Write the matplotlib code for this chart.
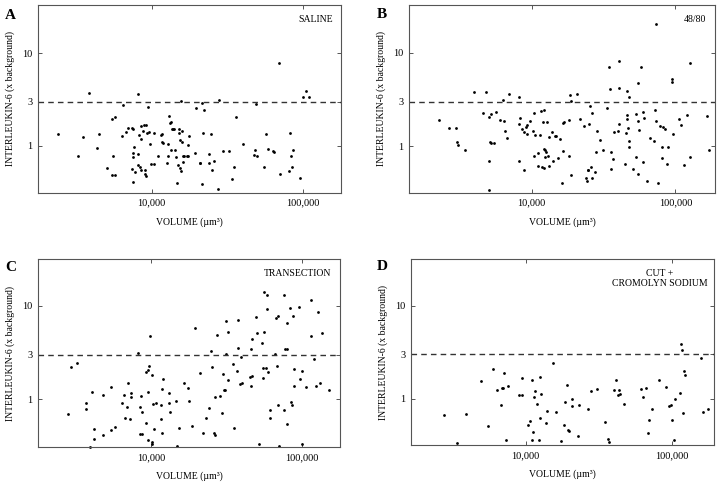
import matplotlib
matplotlib.use("Agg")
import matplotlib.pyplot as plt
from matplotlib.ticker import FixedLocator, NullLocator

plt.rcParams["font.family"] = ["Liberation Serif", "DejaVu Serif"]

# panel A - saline
saline_vol = [2400, 3260, 3500, 3860, 4340, 4470, 5080, 5480, 5570, 5480,
              5740, 5760, 6420, 6360, 6820, 6930, 7370, 7480, 7370, 7520,
              7560, 7560, 7630, 7710, 8070, 8120, 8120, 8280, 8370, 8450,
              8500, 8500, 8710, 8850, 8990, 9080, 9120, 9170, 9270, 9400,
              9650, 9800, 9900, 10300, 10300, 10960, 11590, 11720, 11720, 11830,
              12590, 12770, 12900, 13030, 13240, 13430, 13510, 13710, 13930, 14130,
              14290, 14510, 14800, 14960, 15100, 15180, 15420, 15490, 15660, 15580,
              15820, 15980, 16060, 16230, 16310, 17070, 17330, 17500, 17600, 19400,
              19590, 20940, 21000, 21580, 21650, 21920, 22240, 23880, 24150, 24890,
              25130, 26060, 27420, 27990, 29740, 32430, 34120, 35380, 36480, 39990,
              47300, 48270, 49530, 48980, 55340, 57110, 58610, 63210, 64520, 69980,
              70340, 81600, 82800, 84100, 84900, 86300, 95500, 100500, 105200, 109600]
saline_il6 = [1.34, 0.77, 1.26, 3.75, 0.95, 1.35, 0.58, 1.93, 0.77, 0.49,
              2.03, 0.49, 2.78, 1.28, 1.41, 1.57, 1.57, 1.53, 0.56, 0.75,
              0.41, 0.83, 0.96, 0.52, 0.81, 3.63, 0.62, 1.32, 0.59, 1.65,
              1.18, 0.55, 1.45, 1.66, 0.55, 0.50, 0.47, 1.66, 1.36, 2.62,
              1.41, 1.06, 0.64, 1.36, 0.63, 0.78, 1.32, 1.11, 1.35, 1.08,
              0.66, 0.77, 1.04, 2.08, 1.76, 0.90, 1.80, 1.53, 1.53, 1.53,
              0.90, 0.75, 0.40, 0.62, 1.36, 1.53, 0.57, 1.16, 3.07, 0.53,
              1.44, 1.11, 0.77, 0.67, 0.77, 0.77, 1.03, 0.77, 1.29, 0.84,
              2.58, 0.65, 0.65, 0.39, 2.92, 1.38, 2.43, 0.65, 0.81, 1.33,
              0.55, 0.69, 0.34, 3.12, 0.88, 0.89, 0.44, 0.59, 2.06, 1.06,
              0.80, 0.91, 0.77, 2.80, 0.59, 1.34, 0.92, 0.89, 0.85, 7.92,
              0.50, 0.53, 1.36, 0.77, 0.59, 0.91, 0.45, 3.34, 3.94, 3.34]

# panel B - 48/80
c4880_vol = [2280, 2660, 2970, 3020, 3090, 3440, 4010, 4610, 4790, 5020,
             5050, 5100, 5160, 5240, 5210, 5470, 5650, 6020, 6290, 6420,
             6560, 6770, 6950, 8120, 8120, 8120, 8300, 8520, 8800, 8890,
             9180, 9230, 9330, 9740, 10160, 10330, 10330, 10490, 11010, 11070,
             11430, 11670, 11800, 11930, 12120, 12250, 12250, 12450, 12450, 12510,
             12850, 12990, 13200, 13200, 13930, 14000, 14450, 14860, 15170, 15750,
             16180, 16440, 16530, 16880, 18190, 18290, 18490, 18780, 18880, 20790,
             21580, 23130, 24020, 24150, 24540, 24670, 25070, 25470, 25880, 26440,
             26440, 27450, 28040, 28490, 29900, 31540, 33270, 34730, 34910, 35480,
             35860, 36620, 37410, 40550, 40550, 39690, 40330, 44640, 45370, 45820,
             45820, 46060, 46580, 47320, 47320, 47810, 50470, 53240, 53480, 54700,
             54960, 55220, 56160, 57390, 59250, 59900, 60520, 63130, 66990, 70660,
             72560, 73340, 73340, 76190, 78200, 80350, 82080, 81200, 84760, 87040,
             88900, 94270, 94270, 96330, 106600, 109400, 115500, 121200, 126500, 126900,
             165200, 172500]
c4880_il6 = [1.89, 1.55, 1.55, 1.10, 1.03, 0.91, 3.84, 2.28, 3.84, 2.08,
             0.70, 0.34, 1.12, 2.21, 1.09, 1.09, 2.30, 1.90, 3.10, 1.86,
             1.46, 1.23, 3.62, 3.39, 1.74, 0.69, 2.02, 1.51, 0.56, 1.42,
             1.59, 1.70, 1.36, 1.86, 1.47, 0.79, 2.26, 1.33, 0.85, 0.62,
             1.32, 2.36, 0.60, 1.80, 2.46, 0.94, 0.58, 0.92, 0.77, 0.86,
             1.81, 0.79, 1.24, 0.62, 1.42, 0.69, 1.27, 1.30, 0.74, 1.19,
             0.40, 1.77, 0.88, 1.83, 1.92, 0.79, 3.53, 3.05, 0.49, 3.62,
             1.98, 1.63, 0.46, 0.42, 0.55, 0.55, 1.72, 2.69, 0.60, 2.26,
             0.46, 0.53, 0.86, 1.45, 1.16, 0.92, 2.58, 7.07, 4.10, 0.57,
             0.86, 0.72, 1.43, 8.13, 4.17, 1.47, 1.75, 0.64, 1.37, 1.98,
             3.90, 2.17, 1.55, 1.15, 0.98, 3.39, 0.57, 2.21, 0.76, 0.50,
             1.86, 4.72, 1.49, 7.07, 2.32, 0.67, 2.02, 0.42, 1.21, 1.14,
             2.46, 20.3, 1.87, 0.40, 1.64, 0.75, 1.61, 0.98, 1.51, 0.65,
             0.99, 4.88, 5.30, 1.35, 1.94, 1.70, 0.63, 2.17, 7.80, 0.77,
             2.10, 0.92]

# panel C - transection
trans_vol = [2810, 2940, 3210, 3680, 3700, 3900, 4040, 4160, 4170, 4750,
             4770, 5370, 5420, 5740, 6420, 6620, 6720, 6930, 7040, 7260,
             7330, 7330, 8200, 8410, 8410, 8500, 8670, 8710, 9170, 9270,
             9450, 9450, 9550, 9600, 9850, 10050, 10050, 10150, 10260, 10420,
             10740, 11530, 11590, 11720, 11830, 11890, 13100, 13170, 13300, 14580,
             15340, 14730, 16560, 17420, 17780, 18620, 19400, 21040, 21920, 23060,
             24020, 25010, 25240, 25930, 26300, 26420, 27150, 28420, 29150, 29740,
             30050, 30830, 30990, 31150, 32270, 32270, 34500, 35190, 36840, 37410,
             37730, 38760, 39300, 39600, 45150, 45370, 45370, 46300, 46060, 49530,
             49780, 51840, 54290, 55340, 55610, 55080, 55080, 57110, 57950, 58530,
             59120, 61330, 61000, 66180, 67200, 67880, 68920, 69280, 69630, 75560,
             75180, 76690, 78720, 79530, 79530, 83250, 84100, 85400, 86300, 88050,
             88050, 95500, 96500, 99500, 100000, 106300, 113600, 114100, 119500, 123300,
             127700, 130900, 134300, 149600]
trans_il6 = [0.69, 2.24, 2.47, 0.91, 0.78, 0.31, 1.20, 0.48, 0.38, 1.12,
             0.41, 0.47, 1.37, 0.50, 0.91, 1.11, 0.63, 0.83, 1.50, 0.61,
             1.06, 1.16, 3.16, 0.83, 0.43, 1.09, 0.43, 0.74, 1.96, 0.56,
             2.06, 1.20, 0.37, 2.29, 4.81, 1.84, 0.35, 0.33, 0.88, 0.48,
             0.92, 0.87, 0.61, 1.30, 0.44, 1.67, 0.91, 1.17, 0.74, 0.97,
             0.49, 0.32, 1.48, 1.31, 0.96, 0.52, 5.81, 1.90, 0.44, 0.63,
             0.81, 3.27, 2.22, 0.44, 0.41, 1.06, 4.89, 1.08, 0.72, 1.87,
             1.26, 1.27, 3.03, 6.85, 1.61, 5.27, 2.37, 0.49, 2.00, 7.08,
             3.58, 1.46, 2.82, 1.48, 1.75, 3.49, 1.38, 1.78, 4.47, 7.69,
             5.14, 0.33, 3.98, 14.1, 5.31, 2.15, 1.68, 2.15, 13.0, 9.29,
             1.96, 0.76, 0.63, 3.03, 7.50, 2.28, 0.87, 7.75, 0.32, 13.1,
             0.76, 3.43, 0.54, 6.52, 3.43, 9.44, 0.93, 0.86, 7.81, 1.39,
             2.13, 9.84, 1.65, 2.00, 0.33, 1.36, 11.5, 4.81, 2.73, 1.40,
             8.62, 1.51, 5.14, 1.25]

# panel D - cut + cromolyn sodium
crom_vol = [2760, 3400, 3920, 4970, 5490, 5970, 6330, 6780, 6890, 7030,
            7140, 7290, 7570, 9000, 9400, 9490, 10430, 10650, 11050, 11050,
            11290, 11460, 11590, 11960, 12340, 12470, 12600, 12810, 13710, 13930,
            15390, 16050, 17460, 18320, 18600, 19090, 19600, 19910, 20650, 20870,
            22710, 23050, 26600, 28000, 30830, 34910, 36810, 37410, 40090, 41340,
            43150, 43620, 44100, 47170, 61340, 63950, 66370, 69580, 68880, 73750,
            81480, 91430, 95900, 98900, 100500, 103700, 104800, 113500, 115900, 118400,
            119000, 121500, 122800, 158800, 163000, 176500]
crom_il6 = [0.66, 0.33, 0.69, 1.53, 0.50, 2.09, 1.23, 0.85, 1.31, 1.30,
            1.89, 0.36, 1.37, 1.09, 1.67, 1.10, 0.52, 0.58, 1.58, 0.36,
            0.44, 1.03, 1.21, 0.88, 0.36, 1.71, 0.61, 1.13, 0.54, 0.74,
            2.43, 0.71, 0.35, 0.52, 0.91, 1.39, 0.46, 0.45, 0.99, 0.83,
            0.39, 0.86, 0.77, 1.21, 1.28, 0.56, 0.37, 0.34, 1.23, 1.59,
            1.09, 1.23, 1.12, 0.88, 1.27, 1.03, 1.29, 0.59, 0.42, 0.77,
            1.58, 1.35, 0.83, 0.85, 0.59, 0.36, 0.98, 1.14, 3.89, 3.35,
            0.70, 1.99, 1.79, 2.72, 0.72, 0.77]

panels = [
    ("A", "SALINE", saline_vol, saline_il6,
     [0.0528, 0.6029, 0.4208, 0.3868], (1770, 179500), (0.31, 33.1)),
    ("B", "48/80", c4880_vol, c4880_il6,
     [0.5681, 0.6029, 0.4250, 0.3868], (1406, 188800), (0.315, 32.6)),
    ("C", "TRANSECTION", trans_vol, trans_il6,
     [0.0528, 0.0796, 0.4194, 0.3868], (1770, 177800), (0.306, 31.6)),
    ("D", "CUT +\nCROMOLYN SODIUM", crom_vol, crom_il6,
     [0.5704, 0.0837, 0.4217, 0.3827], (1630, 195900), (0.313, 31.9)),
]
letter_pos = {"A": (0.007, 0.982), "B": (0.523, 0.984),
              "C": (0.007, 0.462), "D": (0.523, 0.466)}

fig = plt.figure(figsize=(7.2, 4.86), dpi=100)

for letter, name, vol, il6, rect, xlim, ylim in panels:
    ax = fig.add_axes(rect)
    ax.set_xscale("log")
    ax.set_yscale("log")
    ax.plot(vol, il6, "o", color="black", markersize=2.0, markeredgewidth=0,
            clip_on=False)
    ax.axhline(3, color="#333333", lw=1.0, dashes=(4, 3))
    ax.set_xlim(*xlim)
    ax.set_ylim(*ylim)

    ax.xaxis.set_major_locator(FixedLocator([10000, 100000]))
    ax.xaxis.set_minor_locator(NullLocator())
    ax.set_xticklabels(["10,000", "100,000"])
    ax.yaxis.set_major_locator(FixedLocator([1, 3, 10]))
    ax.yaxis.set_minor_locator(NullLocator())
    ax.set_yticklabels(["1", "3", "10"])
    ax.tick_params(direction="in", length=3, width=0.7, color="#555555",
                   top=True, right=True, labelsize=7.5, pad=4)
    for sp in ax.spines.values():
        sp.set_color("#555555")
        sp.set_linewidth(0.8)

    ax.set_xlabel("VOLUME (µm³)", fontsize=7)
    ax.set_ylabel("INTERLEUKIN-6 (x background)", fontsize=7)
    ax.xaxis.set_label_coords(0.5, -0.13)
    ax.yaxis.set_label_coords(-0.075, 0.5)

    if "\n" in name:
        ax.text(0.82, 0.895, name, transform=ax.transAxes, fontsize=7,
                ha="center", va="center", multialignment="center",
                linespacing=1.15)
    else:
        ax.text(0.972, 0.925, name, transform=ax.transAxes, fontsize=7,
                ha="right", va="center")

    lx, ly = letter_pos[letter]
    fig.text(lx, ly, letter, fontsize=11, fontweight="bold", ha="left", va="top")

fig.savefig("out.png", dpi=100)
